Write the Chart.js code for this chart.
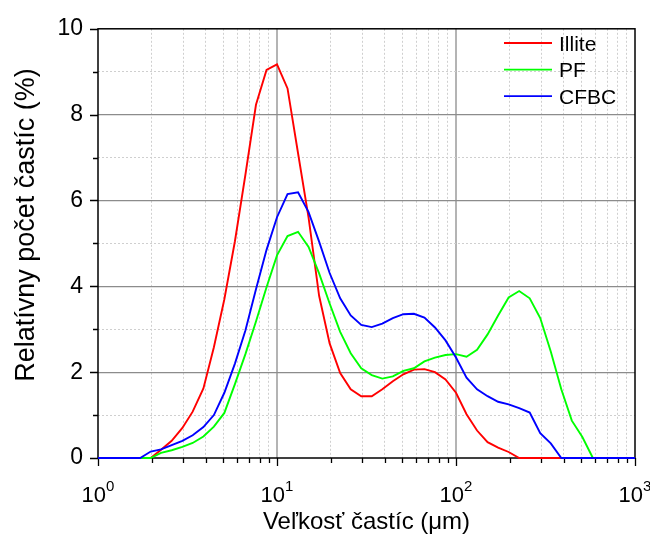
<!DOCTYPE html>
<html>
<head>
<meta charset="utf-8">
<script src="https://cdn.jsdelivr.net/npm/chart.js@4.4.1/dist/chart.umd.min.js"></script>
<style>
  html, body { margin: 0; padding: 0; background: #fff; }
  #wrap { width: 650px; height: 534px; }
</style>
</head>
<body>
<div id="wrap"><canvas id="psdChart" width="650" height="534"></canvas></div>
<script>
// particle size classes (um)
const sizes = [1.0, 1.72, 1.97, 2.25, 2.58, 2.96, 3.38, 3.88, 4.44, 5.08, 5.82, 6.66, 7.63, 8.74,
  10.0, 11.45, 13.11, 15.01, 17.19, 19.68, 22.54, 25.81, 29.55, 33.84, 38.75, 44.37, 50.81,
  58.18, 66.62, 76.29, 87.36, 100, 114.5, 131.1, 150.1, 171.9, 196.8, 225.4, 258.1, 295.5,
  338.4, 387.5, 443.7, 508.1, 581.8, 1000];

const illite = [0, 0, 0, 0.19, 0.4, 0.7, 1.08, 1.62, 2.58, 3.7, 5.05, 6.6, 8.23, 9.04,
  9.17, 8.61, 7.1, 5.6, 3.78, 2.67, 1.98, 1.6, 1.44, 1.44, 1.6, 1.79, 1.95,
  2.06, 2.07, 2.0, 1.83, 1.52, 1.02, 0.64, 0.37, 0.24, 0.14, 0, 0, 0,
  0, 0, 0, 0, 0, 0];

const pf = [0, 0, 0, 0.12, 0.18, 0.26, 0.35, 0.5, 0.73, 1.05, 1.72, 2.42, 3.18, 3.98,
  4.72, 5.17, 5.27, 4.92, 4.3, 3.6, 2.94, 2.44, 2.09, 1.93, 1.85, 1.9, 2.03,
  2.09, 2.25, 2.34, 2.4, 2.42, 2.36, 2.52, 2.88, 3.32, 3.74, 3.89, 3.72, 3.26,
  2.48, 1.6, 0.87, 0.49, 0, 0];

const cfbc = [0, 0, 0.15, 0.2, 0.3, 0.4, 0.53, 0.72, 1.0, 1.52, 2.2, 2.97, 3.93, 4.85,
  5.61, 6.15, 6.19, 5.73, 5.04, 4.31, 3.72, 3.32, 3.10, 3.05, 3.13, 3.26, 3.35,
  3.36, 3.27, 3.04, 2.74, 2.34, 1.87, 1.6, 1.44, 1.31, 1.25, 1.16, 1.06, 0.58,
  0.34, 0, 0, 0, 0, 0];

const seriesNames = ['Illite', 'PF', 'CFBC'];
const seriesColors = ['#ff0000', '#00ff00', '#0000ff'];

const xTickValues = [1, 2, 3, 4, 5, 6, 7, 8, 9, 10, 20, 30, 40, 50, 60, 70, 80, 90,
  100, 200, 300, 400, 500, 600, 700, 800, 900, 1000];
const xMajorTicks = [1, 10, 100, 1000];
const xExponents = ['0', '1', '2', '3'];
const yTickLabels = [0, 2, 4, 6, 8, 10];

const xTitle = 'Veľkosť častíc (μm)';
const yTitle = 'Relatívny počet častíc (%)';

const FONT = '"Liberation Sans", Arial, sans-serif';

function toPoints(values) {
  return sizes.map((s, i) => ({ x: s, y: values[i] }));
}

const extras = {
  id: 'extras',
  beforeDatasetsDraw(chart) {
    const c = chart.ctx;
    const a = chart.chartArea;
    const xs = chart.scales.x;
    const ys = chart.scales.y;
    c.save();
    c.strokeStyle = '#000';
    c.lineWidth = 1.5;
    c.strokeRect(a.left, a.top, a.right - a.left, a.bottom - a.top);

    // tick marks, outward
    c.lineWidth = 1.3;
    c.beginPath();
    xTickValues.forEach(v => {
      const px = Math.round(xs.getPixelForValue(v)) + 0.5;
      const len = xMajorTicks.includes(v) ? 8 : 5;
      c.moveTo(px, a.bottom);
      c.lineTo(px, a.bottom + len);
    });
    for (let v = 0; v <= 10; v++) {
      const py = Math.round(ys.getPixelForValue(v)) + 0.5;
      const len = v % 2 === 0 ? 8 : 5;
      c.moveTo(a.left, py);
      c.lineTo(a.left - len, py);
    }
    c.stroke();

    // x tick labels 10^n
    c.fillStyle = '#000';
    c.textBaseline = 'alphabetic';
    xMajorTicks.forEach((v, i) => {
      const px = xs.getPixelForValue(v);
      c.font = '22px ' + FONT;
      const wb = c.measureText('10').width;
      c.font = '15px ' + FONT;
      const we = c.measureText(xExponents[i]).width;
      const x0 = px - (wb + we) / 2;
      c.font = '22px ' + FONT;
      c.textAlign = 'left';
      c.fillText('10', x0, 502);
      c.font = '15px ' + FONT;
      c.fillText(xExponents[i], x0 + wb, 491);
    });

    // axis titles
    c.font = '24px ' + FONT;
    c.textAlign = 'center';
    c.fillText(xTitle, (a.left + a.right) / 2, 529);

    c.save();
    c.translate(34, 225);
    c.rotate(-Math.PI / 2);
    c.font = '27px ' + FONT;
    c.fillText(yTitle, 0, 0);
    c.restore();
    c.restore();
  },
  afterDatasetsDraw(chart) {
    const c = chart.ctx;
    c.save();
    c.lineWidth = 1.8;
    c.font = '21px ' + FONT;
    c.textAlign = 'left';
    c.textBaseline = 'alphabetic';
    seriesNames.forEach((name, i) => {
      const y = 43 + i * 26.6;
      c.strokeStyle = seriesColors[i];
      c.beginPath();
      c.moveTo(504, y);
      c.lineTo(552, y);
      c.stroke();
      c.fillStyle = '#000';
      c.fillText(name, 559, y + 7.5);
    });
    c.restore();
  }
};

const ctx = document.getElementById('psdChart').getContext('2d');

const datasets = [illite, pf, cfbc].map((vals, i) => ({
  label: seriesNames[i],
  data: toPoints(vals),
  borderColor: seriesColors[i],
  backgroundColor: seriesColors[i],
  borderWidth: 1.9,
  pointRadius: 0,
  tension: 0,
  fill: false,
  clip: false,
  order: 3 - i
}));

const chart = new Chart(ctx, {
  type: 'line',
  data: { datasets: datasets },
  options: {
    responsive: false,
    devicePixelRatio: 1,
    animation: false,
    layout: { padding: { top: 22, right: 15, left: 0, bottom: 0 } },
    plugins: {
      legend: { display: false },
      tooltip: { enabled: false }
    },
    scales: {
      x: {
        type: 'logarithmic',
        min: 1,
        max: 1000,
        afterBuildTicks: s => {
          s.ticks = xTickValues.map(v => ({ value: v, major: xMajorTicks.includes(v) }));
        },
        afterFit: s => { s.height = 76; },
        ticks: { display: false },
        border: {
          display: false,
          dash: c => xMajorTicks.includes(c.tick && c.tick.value) ? [] : [2, 2]
        },
        grid: {
          drawTicks: false,
          color: c => {
            const v = c.tick && c.tick.value;
            if (v === 1 || v === 1000) return 'rgba(0,0,0,0)';
            return xMajorTicks.includes(v) ? '#b4b4b4' : '#cfcfcf';
          },
          lineWidth: c => xMajorTicks.includes(c.tick && c.tick.value) ? 2 : 1
        }
      },
      y: {
        type: 'linear',
        min: 0,
        max: 10,
        afterFit: s => { s.width = 98; },
        ticks: {
          stepSize: 1,
          autoSkip: false,
          padding: 15,
          color: '#000',
          font: { family: FONT, size: 23 },
          callback: v => yTickLabels.includes(v) ? String(v) : ''
        },
        border: {
          display: false,
          dash: c => (c.tick && c.tick.value % 2 === 0) ? [] : [2, 2]
        },
        grid: {
          drawTicks: false,
          color: c => {
            const v = c.tick && c.tick.value;
            if (v === 0 || v === 10) return 'rgba(0,0,0,0)';
            return v % 2 === 0 ? '#8c8c8c' : '#cfcfcf';
          },
          lineWidth: c => (c.tick && c.tick.value % 2 === 0) ? 1.3 : 1
        }
      }
    }
  },
  plugins: [extras]
});
</script>
</body>
</html>
